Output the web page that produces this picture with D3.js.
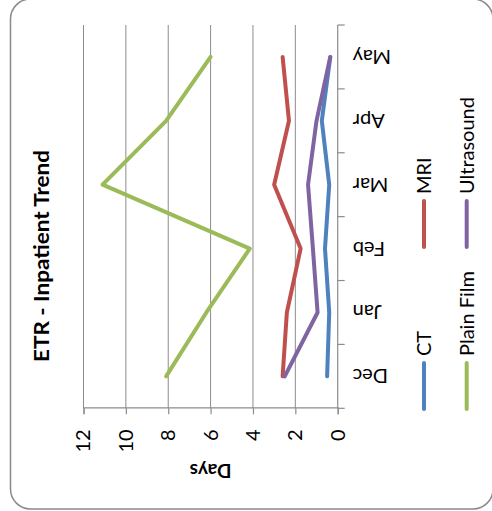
<!DOCTYPE html>
<html><head><meta charset="utf-8">
<script src="https://cdn.jsdelivr.net/npm/d3@7"></script>
<style>html,body{margin:0;padding:0;background:#fff;}svg{display:block;}</style>
</head><body>
<script>
const months = ["Dec","Jan","Feb","Mar","Apr","May"];
const ctValues = [0.5,0.4,0.6,0.4,0.75,0.35];
const mriValues = [2.6,2.4,1.75,3.0,2.3,2.6];
const plainFilmValues = [8.1,6.2,4.15,11.1,8.1,6.0];
const ultrasoundValues = [2.5,0.95,1.17,1.4,1.0,0.35];
const yTicks = [0,2,4,6,8,10,12];
const seriesNames = ["CT","MRI","Plain Film","Ultrasound"];
const seriesColors = ["#4F81BD","#C0504D","#9BBB59","#8064A2"];
const seriesValues = [ctValues, mriValues, plainFilmValues, ultrasoundValues];

const W = 492, H = 511;
const FONT = "Lato, 'Open Sans', sans-serif";
const svg = d3.select("body").append("svg").attr("width", W).attr("height", H);

// frame (screen coordinates)
svg.append("rect").attr("x",10.5).attr("y",-1).attr("width",482.5).attr("height",510)
  .attr("rx",20).attr("fill","#fff").attr("stroke","#8a8a8a").attr("stroke-width",1.5);

// chart drawn in its original orientation then rotated 90° counter-clockwise
const g = svg.append("g").attr("transform", `translate(0,${H}) rotate(-90)`);

const x = d3.scaleBand().domain(months).range([102.7, 486]);
const y = d3.scaleLinear().domain([0,12]).range([337.7, 83.5]);

// gridlines
g.append("g").selectAll("line").data(yTicks.filter(d=>d>0)).join("line")
  .attr("x1", x.range()[0]).attr("x2", x.range()[1])
  .attr("y1", d=>y(d)).attr("y2", d=>y(d))
  .attr("stroke","#8c8c8c").attr("stroke-width",1);

// value axis
const yAxis = g.append("g").attr("transform",`translate(${x.range()[0]},0)`)
  .call(d3.axisLeft(y).tickValues(yTicks).tickSize(6).tickPadding(15).tickFormat(d3.format("d")));
yAxis.select(".domain").attr("stroke","#8c8c8c").attr("stroke-width",1.2);
yAxis.selectAll(".tick line").attr("stroke","#8c8c8c").attr("stroke-width",1.2);
yAxis.selectAll(".tick text").attr("font-family",FONT).attr("font-size",20).attr("fill","#000");

// category axis
const xa = g.append("g");
xa.append("line").attr("x1",x.range()[0]).attr("x2",x.range()[1])
  .attr("y1",y(0)).attr("y2",y(0)).attr("stroke","#8c8c8c").attr("stroke-width",1.2);
const bounds = months.map(m=>x(m)).concat([x.range()[1]]);
xa.selectAll("line.t").data(bounds).join("line").attr("class","t")
  .attr("x1",d=>d).attr("x2",d=>d).attr("y1",y(0)).attr("y2",y(0)+7)
  .attr("stroke","#8c8c8c").attr("stroke-width",1.2);
xa.selectAll("text").data(months).join("text")
  .attr("transform", d=>`translate(${x(d)+x.bandwidth()/2},${y(0)+15}) rotate(-90)`)
  .attr("text-anchor","end").attr("dy","0.35em")
  .attr("font-family",FONT).attr("font-size",20).attr("fill","#000").text(d=>d);

// lines
const line = d3.line().x((d,i)=>x(months[i])+x.bandwidth()/2).y(d=>y(d));
g.append("g").selectAll("path").data(seriesValues).join("path")
  .attr("d", d=>line(d)).attr("fill","none")
  .attr("stroke",(d,i)=>seriesColors[i]).attr("stroke-width",4)
  .attr("stroke-linejoin","round").attr("stroke-linecap","round");

// title
g.append("text").attr("x",255).attr("y",49).attr("text-anchor","middle")
  .attr("font-family",FONT).attr("font-weight","bold").attr("font-size",20).attr("fill","#000")
  .attr("textLength",212).attr("lengthAdjust","spacingAndGlyphs")
  .text("ETR - Inpatient Trend");

// axis title
g.append("text").attr("transform",`translate(40,${(y(0)+y(12))/2}) rotate(-90)`)
  .attr("text-anchor","middle").attr("dy","0.35em")
  .attr("font-family",FONT).attr("font-weight","bold").attr("font-size",19).attr("fill","#000")
  .text("Days");

// legend
const legX = [102, 264], legY = [424, 466.7];
const leg = g.append("g").selectAll("g").data(seriesNames).join("g")
  .attr("transform",(d,i)=>`translate(${legX[i%2]},${legY[Math.floor(i/2)]})`);
leg.append("line").attr("x1",0).attr("x2",46).attr("y1",0).attr("y2",0)
  .attr("stroke",(d,i)=>seriesColors[i]).attr("stroke-width",4).attr("stroke-linecap","round");
leg.append("text").attr("x",53).attr("dy","0.35em")
  .attr("font-family",FONT).attr("font-size",20).attr("fill","#000").text(d=>d);
</script>
</body></html>
